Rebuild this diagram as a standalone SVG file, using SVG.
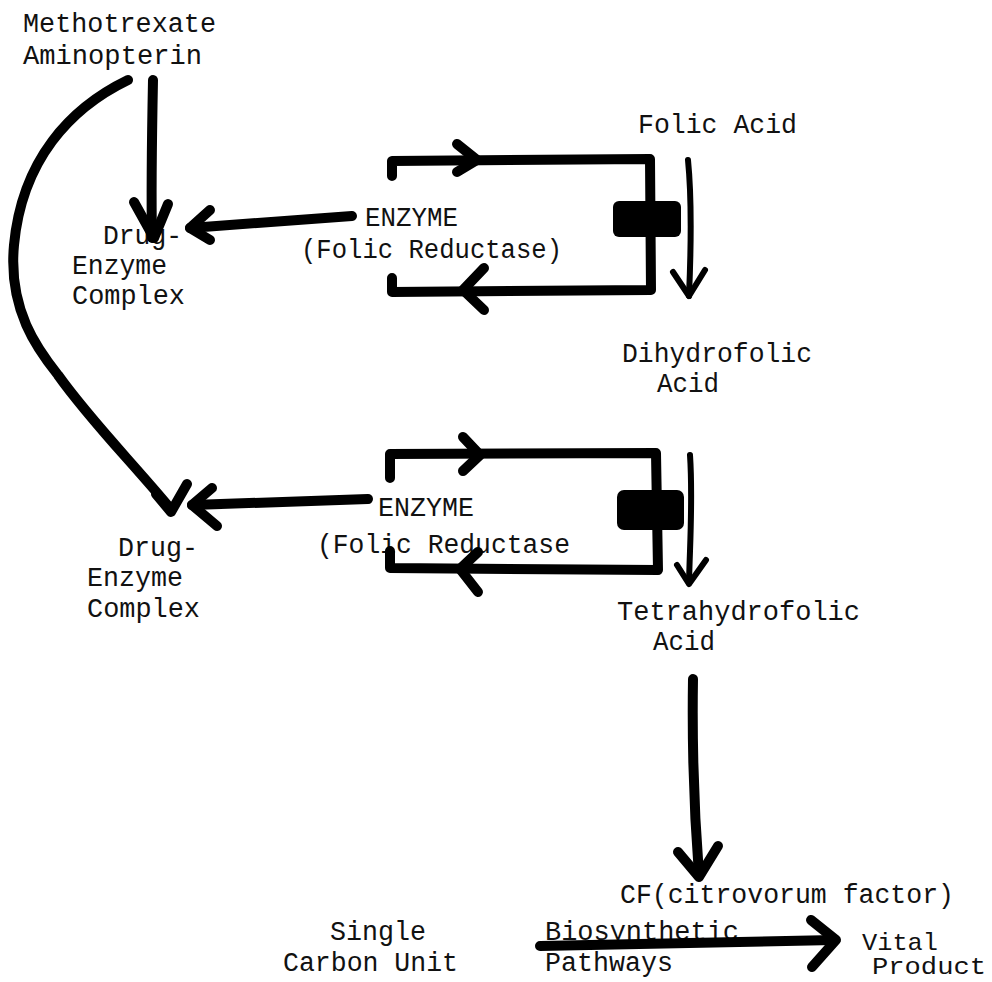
<svg xmlns="http://www.w3.org/2000/svg" width="992" height="982" viewBox="0 0 992 982">
<style>
text{font-family:"Liberation Mono","DejaVu Sans Mono",monospace;font-size:27px;fill:#111;}
.sm{font-size:24px;}
.h{fill:none;stroke:#000;stroke-width:10;stroke-linecap:round;stroke-linejoin:round;}
.t{fill:none;stroke:#000;stroke-width:6;stroke-linecap:round;stroke-linejoin:round;}
.blk{fill:#000;}
</style>
<rect width="992" height="982" fill="#fff"/>
<g id="drug">
<text x="23" y="32" textLength="193" lengthAdjust="spacingAndGlyphs">Methotrexate</text>
<text x="23" y="64" textLength="179" lengthAdjust="spacingAndGlyphs">Aminopterin</text>
</g>
<g id="complex1">
<text x="103" y="244" textLength="79" lengthAdjust="spacingAndGlyphs">Drug-</text>
<text x="72" y="274" textLength="95" lengthAdjust="spacingAndGlyphs">Enzyme</text>
<text x="72" y="304" textLength="113" lengthAdjust="spacingAndGlyphs">Complex</text>
</g>
<g id="folic">
<text x="638" y="133" textLength="159" lengthAdjust="spacingAndGlyphs">Folic Acid</text>
</g>
<g id="enzyme1">
<text x="365" y="226" textLength="93" lengthAdjust="spacingAndGlyphs">ENZYME</text>
<text x="301" y="258" textLength="261" lengthAdjust="spacingAndGlyphs">(Folic Reductase)</text>
</g>
<g id="dihydro">
<text x="622" y="362" textLength="190" lengthAdjust="spacingAndGlyphs">Dihydrofolic</text>
<text x="657" y="392" textLength="62" lengthAdjust="spacingAndGlyphs">Acid</text>
</g>
<g id="complex2">
<text x="118" y="556" textLength="80" lengthAdjust="spacingAndGlyphs">Drug-</text>
<text x="87" y="586" textLength="96" lengthAdjust="spacingAndGlyphs">Enzyme</text>
<text x="87" y="617" textLength="113" lengthAdjust="spacingAndGlyphs">Complex</text>
</g>
<g id="enzyme2">
<text x="378" y="516" textLength="96" lengthAdjust="spacingAndGlyphs">ENZYME</text>
<text x="317" y="553" textLength="253" lengthAdjust="spacingAndGlyphs">(Folic Reductase</text>
</g>
<g id="tetrahydro">
<text x="617" y="620" textLength="243" lengthAdjust="spacingAndGlyphs">Tetrahydrofolic</text>
<text x="653" y="650" textLength="62" lengthAdjust="spacingAndGlyphs">Acid</text>
</g>
<g id="cf">
<text x="620" y="903" textLength="334" lengthAdjust="spacingAndGlyphs">CF(citrovorum factor)</text>
</g>
<g id="single">
<text x="330" y="940" textLength="96" lengthAdjust="spacingAndGlyphs">Single</text>
<text x="283" y="971" textLength="175" lengthAdjust="spacingAndGlyphs">Carbon Unit</text>
</g>
<g id="pathways">
<text x="545" y="940" textLength="194" lengthAdjust="spacingAndGlyphs">Biosynthetic</text>
<text x="545" y="971" textLength="128" lengthAdjust="spacingAndGlyphs">Pathways</text>
</g>
<g id="vital">
<text class="sm" x="862" y="950" textLength="76" lengthAdjust="spacingAndGlyphs">Vital</text>
<text class="sm" x="872" y="974" textLength="114" lengthAdjust="spacingAndGlyphs">Product</text>
</g>
<g id="blocks">
<rect class="blk" x="613" y="201" width="68" height="36" rx="6"/>
<rect class="blk" x="617" y="490" width="67" height="40" rx="7"/>
</g>
<g id="connectors">
<path class="h" d="M153,80 C152,130 151,190 152,238"/>
<path class="h" d="M134,202 L154,238 L168,204"/>
<path class="h" d="M352,216 L190,228"/>
<path class="h" d="M210,210 L190,228 L210,240"/>
<path class="h" d="M128,80 C70,108 22,160 14,245 C8,310 38,350 58,375 C90,420 130,460 170,508"/>
<path class="h" d="M156,494 L171,512 L187,484"/>
<path class="h" d="M368,499 L192,505"/>
<path class="h" d="M212,488 L192,505 L217,526"/>
<path class="h" d="M392,176 L392,161 L650,159 L651,290 L392,292 L392,278"/>
<path class="h" d="M457,144 L477,160 L457,172"/>
<path class="h" d="M484,268 L463,290 L484,310"/>
<path class="t" d="M688,160 C692,200 691,250 689,296"/>
<path class="t" d="M673,272 L689,296 L705,270"/>
<path class="h" d="M390,478 L390,454 L656,453 L658,570 L390,568 L390,551"/>
<path class="h" d="M463,437 L480,455 L463,471"/>
<path class="h" d="M478,552 L460,569 L478,592"/>
<path class="t" d="M690,455 C693,500 690,540 689,583"/>
<path class="t" d="M677,565 L689,584 L706,560"/>
<path class="h" d="M693,679 C692,740 694,810 699,875"/>
<path class="h" d="M678,852 L699,877 L718,846"/>
<path class="h" d="M540,946 C640,944 740,942 834,940"/>
<path class="h" d="M811,920 L836,940 L812,967"/>
</g>
</svg>
